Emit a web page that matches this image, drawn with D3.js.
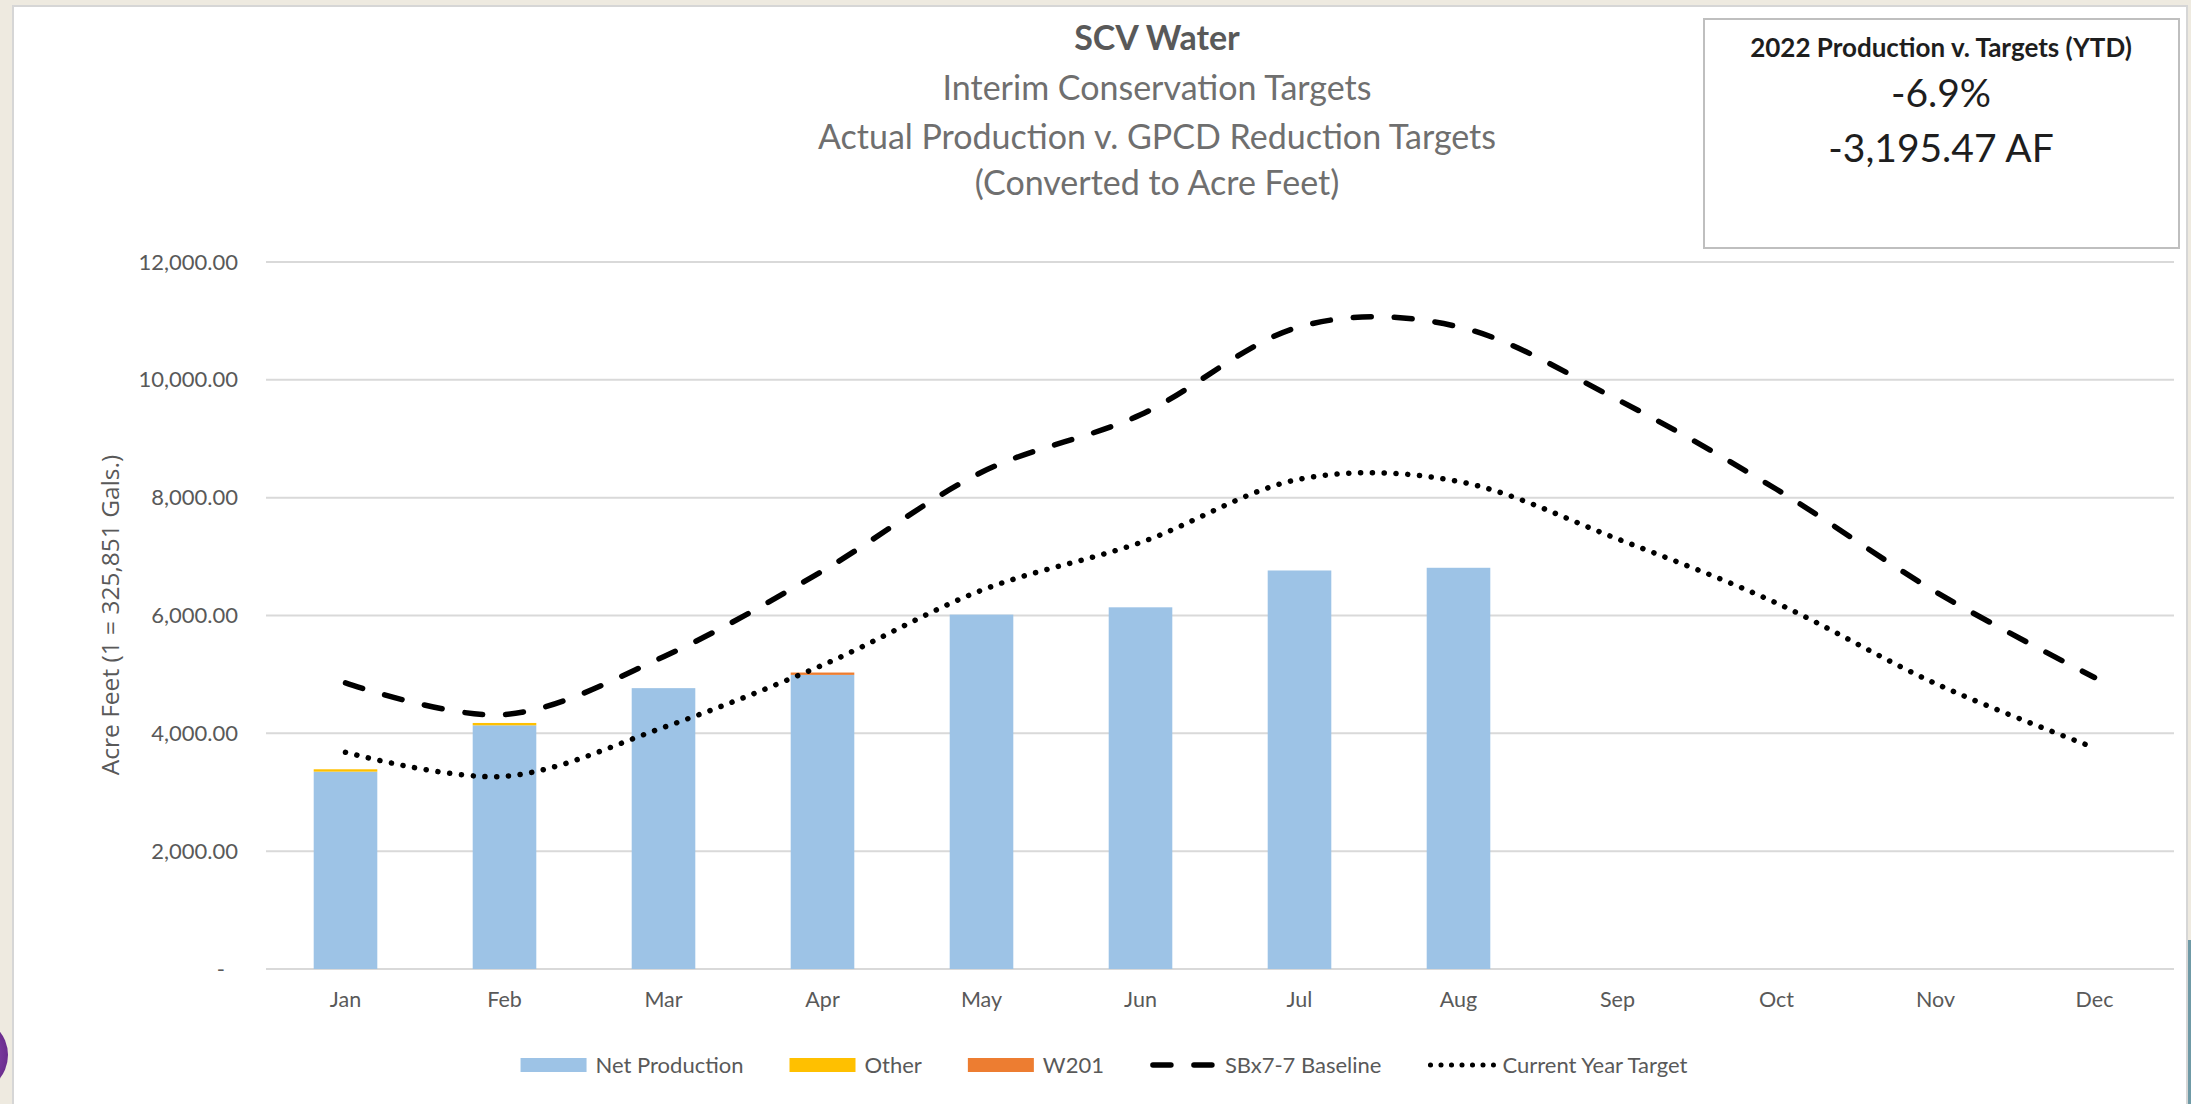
<!DOCTYPE html>
<html>
<head>
<meta charset="utf-8">
<script src="https://cdn.jsdelivr.net/npm/d3@7"></script>
<style>
  body { margin: 0; background: #eeeae0; }
  svg { display: block; }
</style>
</head>
<body>
<svg id="chart"></svg>
<script>
// SCV Water - production v. targets
var W = 2191;
var H = 1104;
var margin = {top: 262, right: 17, bottom: 135, left: 266};

var months = ["Jan", "Feb", "Mar", "Apr", "May", "Jun", "Jul", "Aug", "Sep", "Oct", "Nov", "Dec"];
var netProduction = [3350, 4136, 4767, 4992, 6015, 6139, 6764, 6810, 0, 0, 0, 0];
var other = [40, 40, 0, 0, 0, 0, 0, 0, 0, 0, 0, 0];
var w201 = [0, 0, 0, 40, 0, 0, 0, 0, 0, 0, 0, 0];
var baseline = [4856, 4318, 5300, 6756, 8431, 9406, 10900, 10900, 9664, 8143, 6404, 4948];
var currentTarget = [3678, 3271, 4100, 5158, 6428, 7239, 8314, 8275, 7300, 6211, 4845, 3754];
var yTicks = [0, 2000, 4000, 6000, 8000, 10000, 12000];

var titleLines = ["SCV Water", "Interim Conservation Targets",
                  "Actual Production v. GPCD Reduction Targets", "(Converted to Acre Feet)"];
var boxLines = ["2022 Production v. Targets (YTD)", "-6.9%", "-3,195.47 AF"];

var svg = d3.select("#chart")
  .attr("width", W)
  .attr("height", H);

// slide background bits
svg.append("rect")
  .attr("x", 13).attr("y", 6)
  .attr("width", 2174).attr("height", H)
  .attr("fill", "white")
  .attr("stroke", "#d6d6d6")
  .attr("stroke-width", 2);

var grad = svg.append("defs").append("radialGradient").attr("id", "purp");
grad.append("stop").attr("offset", "0%").attr("stop-color", "#a35cc4");
grad.append("stop").attr("offset", "100%").attr("stop-color", "#6b2d8f");
svg.append("circle")
  .attr("cx", -30).attr("cy", 1055).attr("r", 38)
  .attr("fill", "url(#purp)");

svg.append("rect")
  .attr("x", 2188).attr("y", 940)
  .attr("width", 3).attr("height", H - 940)
  .attr("fill", "#6f9aa6");

var x = d3.scaleBand()
  .domain(months)
  .range([margin.left, W - margin.right])
  .paddingInner(0.6)
  .paddingOuter(0.3);

var y = d3.scaleLinear()
  .domain([0, 12000])
  .range([H - margin.bottom, margin.top]);

// gridlines
svg.append("g")
  .selectAll("line")
  .data(yTicks)
  .enter()
  .append("line")
  .attr("x1", margin.left)
  .attr("x2", W - margin.right)
  .attr("y1", d => y(d))
  .attr("y2", d => y(d))
  .attr("stroke", "#d9d9d9")
  .attr("stroke-width", 2);

var fmt = d3.format(",.2f");

var yAxis = svg.append("g")
  .attr("transform", `translate(${margin.left},0)`)
  .call(d3.axisLeft(y).tickValues(yTicks).tickSize(0).tickPadding(28)
    .tickFormat(d => d === 0 ? "-" : fmt(d)));
yAxis.select(".domain").remove();
yAxis.selectAll("text")
  .attr("font-family", "Lato")
  .attr("font-size", 22)
  .attr("fill", "#595959")
  .attr("dx", d => d === 0 ? -13 : 0);

var xAxis = svg.append("g")
  .attr("transform", `translate(0,${H - margin.bottom})`)
  .call(d3.axisBottom(x).tickSize(0).tickPadding(23));
xAxis.select(".domain").remove();
xAxis.selectAll("text")
  .attr("font-family", "Lato")
  .attr("font-size", 21.5)
  .attr("fill", "#595959");

svg.append("text")
  .attr("transform", "translate(110,615) rotate(-90)")
  .attr("text-anchor", "middle")
  .attr("dy", "0.35em")
  .attr("font-family", "Open Sans")
  .attr("font-size", 24.5)
  .attr("fill", "#595959")
  .text("Acre Feet (1 = 325,851 Gals.)");

// stacked bars
var table = months.map((m, i) => ({month: m, net: netProduction[i], other: other[i], w201: w201[i]}));
var keys = ["net", "other", "w201"];
var colors = {net: "#9dc3e6", other: "#ffc000", w201: "#ed7d31"};
var stacked = d3.stack().keys(keys)(table);

svg.append("g")
  .selectAll("g")
  .data(stacked)
  .enter()
  .append("g")
  .attr("fill", d => colors[d.key])
  .selectAll("rect")
  .data(d => d)
  .enter()
  .append("rect")
  .attr("x", d => x(d.data.month))
  .attr("width", x.bandwidth())
  .attr("y", d => y(d[1]))
  .attr("height", d => y(d[0]) - y(d[1]));

// smoothed target lines
var line = d3.line()
  .x((d, i) => x(months[i]) + x.bandwidth() / 2)
  .y(d => y(d))
  .curve(d3.curveCardinal.tension(0));

svg.append("path")
  .datum(baseline)
  .attr("fill", "none")
  .attr("stroke", "black")
  .attr("stroke-width", 5.5)
  .attr("stroke-linecap", "round")
  .attr("stroke-dasharray", "18 23")
  .attr("d", line);

svg.append("path")
  .datum(currentTarget)
  .attr("fill", "none")
  .attr("stroke", "black")
  .attr("stroke-width", 5.5)
  .attr("stroke-linecap", "round")
  .attr("stroke-dasharray", "0.1 11.7")
  .attr("d", line);

// titles
var titleY = [38, 88, 137, 183];
svg.append("g")
  .selectAll("text")
  .data(titleLines)
  .enter()
  .append("text")
  .attr("x", 1157)
  .attr("y", (d, i) => titleY[i])
  .attr("dy", "0.35em")
  .attr("text-anchor", "middle")
  .attr("font-family", "Lato")
  .attr("font-size", 34)
  .attr("font-weight", (d, i) => i === 0 ? "bold" : "normal")
  .attr("fill", (d, i) => i === 0 ? "#595959" : "#6f6f6f")
  .text(d => d);

// YTD box
svg.append("rect")
  .attr("x", 1704).attr("y", 19)
  .attr("width", 475).attr("height", 229)
  .attr("fill", "white")
  .attr("stroke", "#bfbfbf")
  .attr("stroke-width", 2);

var boxY = [57, 107, 162];
svg.append("g")
  .selectAll("text")
  .data(boxLines)
  .enter()
  .append("text")
  .attr("x", 1941)
  .attr("y", (d, i) => boxY[i])
  .attr("text-anchor", "middle")
  .attr("font-family", "Lato")
  .attr("font-size", (d, i) => i === 0 ? 26 : 39)
  .attr("font-weight", (d, i) => i === 0 ? "bold" : "normal")
  .attr("fill", "#1e1e1e")
  .text(d => d);

// legend
var legendItems = [
  {name: "Net Production", type: "rect", color: colors.net},
  {name: "Other", type: "rect", color: colors.other},
  {name: "W201", type: "rect", color: colors.w201},
  {name: "SBx7-7 Baseline", type: "dash"},
  {name: "Current Year Target", type: "dot"}
];

var legend = svg.append("g");
var lx = 0;
legendItems.forEach(item => {
  var g = legend.append("g").attr("transform", `translate(${lx},1065)`);
  if (item.type === "rect") {
    g.append("rect").attr("x", 0).attr("y", -7).attr("width", 66).attr("height", 14).attr("fill", item.color);
  } else if (item.type === "dash") {
    g.append("line").attr("x1", 3).attr("x2", 63).attr("y1", 0).attr("y2", 0)
      .attr("stroke", "black").attr("stroke-width", 5.5)
      .attr("stroke-linecap", "round").attr("stroke-dasharray", "18 23");
  } else {
    g.append("line").attr("x1", 3).attr("x2", 66).attr("y1", 0).attr("y2", 0)
      .attr("stroke", "black").attr("stroke-width", 5)
      .attr("stroke-linecap", "round").attr("stroke-dasharray", "0.1 10.4");
  }
  var t = g.append("text")
    .attr("x", 75)
    .attr("dy", "0.35em")
    .attr("font-family", "Lato")
    .attr("font-size", 22)
    .attr("fill", "#595959")
    .text(item.name);
  lx += 75 + t.node().getComputedTextLength() + 46;
});
var legendW = lx - 46;
legend.attr("transform", `translate(${1104 - legendW / 2},0)`);
</script>
</body>
</html>
